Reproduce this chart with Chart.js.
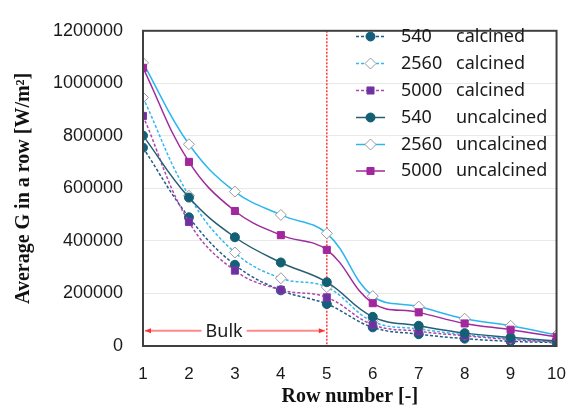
<!DOCTYPE html>
<html>
<head>
<meta charset="utf-8">
<script src="https://cdn.jsdelivr.net/npm/chart.js@4.4.1/dist/chart.umd.min.js"></script>
<style>
  html, body { margin: 0; padding: 0; background: #fff; }
  #wrap { width: 584px; height: 409px; }
</style>
</head>
<body>
<div id="wrap"><canvas id="chart" width="584" height="409"></canvas></div>
<script>
// --- DATI ---
const rows = [1, 2, 3, 4, 5, 6, 7, 8, 9, 10];
const g540Calc    = [755000, 490000, 309000, 212000, 160000, 71000, 45000, 28000, 18000, 13000];
const g2560Calc   = [946000, 572000, 356000, 258000, 224000, 93000, 65000, 43000, 28000, 15000];
const g5000Calc   = [876000, 472000, 287000, 214000, 185000, 81000, 56000, 39000, 25000, 15000];
const g540Uncalc  = [801000, 565000, 414000, 318000, 243000, 111000, 77000, 49000, 33000, 19000];
const g2560Uncalc = [1078000, 768000, 588000, 499000, 429000, 190000, 150000, 104000, 77000, 42000];
const g5000Uncalc = [1059000, 701000, 514000, 422000, 366000, 163000, 128000, 86000, 62000, 35000];
const yTicks = [0, 200000, 400000, 600000, 800000, 1000000, 1200000];
const bulkStart = 1, bulkEnd = 5;
const bulkLabel = 'Bulk';

const legendNames = [
  ['540', 'calcined'], ['2560', 'calcined'], ['5000', 'calcined'],
  ['540', 'uncalcined'], ['2560', 'uncalcined'], ['5000', 'uncalcined']
];

function pts(vals) {
  return rows.map((r, i) => ({ x: r, y: vals[i] }));
}

function serie(vals, line, marker, fill, border, radius, dashed) {
  return {
    data: pts(vals),
    borderColor: line,
    borderWidth: 1.5,
    borderDash: dashed ? [3, 2] : [],
    pointStyle: marker,
    pointRadius: radius,
    pointBackgroundColor: fill,
    pointBorderColor: border,
    pointBorderWidth: 1,
    tension: 0.4
  };
}

const datasets = [
  serie(g5000Uncalc, '#a02a9c', 'rect', '#a0289c', '#a0289c', 5, false),
  serie(g2560Uncalc, '#2cb6f0', 'rectRot', '#ffffff', '#9a9a9a', 5.5, false),
  serie(g540Uncalc, '#275f74', 'circle', '#135f73', '#135f73', 4.5, false),
  serie(g5000Calc, '#b045ae', 'rect', '#7030a0', '#7a3aa8', 5, true),
  serie(g2560Calc, '#33b8f2', 'rectRot', '#ffffff', '#9a9a9a', 5.5, true),
  serie(g540Calc, '#1e5d85', 'circle', '#155e7c', '#155e7c', 4.5, true)
];
// ordine legenda: calcined prima, poi uncalcined
const legendOrder = [5, 4, 3, 2, 1, 0];

// --- PLUGIN: cornice, linea rossa, freccia Bulk, legenda ---
const extras = {
  id: 'extras',
  beforeDatasetsDraw(chart) {
    const { ctx, chartArea: a, scales: { x, y } } = chart;
    ctx.save();
    // linea tratteggiata rossa a fine bulk
    const xr = x.getPixelForValue(bulkEnd);
    ctx.strokeStyle = '#ff3b3b';
    ctx.lineWidth = 1.5;
    ctx.setLineDash([2, 1.5]);
    ctx.beginPath();
    ctx.moveTo(xr, a.top);
    ctx.lineTo(xr, a.bottom);
    ctx.stroke();
    ctx.setLineDash([]);

    // freccia doppia Bulk
    const ya = y.getPixelForValue(58000);
    const x0 = x.getPixelForValue(bulkStart) + 2;
    const x1 = xr - 2;
    ctx.strokeStyle = '#ff8a8a';
    ctx.fillStyle = '#ff3030';
    ctx.lineWidth = 2;
    ctx.beginPath();
    ctx.moveTo(x0, ya);
    ctx.lineTo(x1, ya);
    ctx.stroke();
    [[x0, 1], [x1, -1]].forEach(([px, d]) => {
      ctx.beginPath();
      ctx.moveTo(px, ya);
      ctx.lineTo(px + d * 6, ya - 2.5);
      ctx.lineTo(px + d * 6, ya + 2.5);
      ctx.closePath();
      ctx.fill();
    });
    ctx.font = '18px "Noto Sans"';
    const tw = ctx.measureText(bulkLabel).width;
    const tx = x0 + (x1 - x0) * 0.44;
    ctx.fillStyle = '#ffffff';
    ctx.fillRect(tx - tw / 2 - 4, ya - 11, tw + 8, 22);
    ctx.fillStyle = '#1a1a1a';
    ctx.textAlign = 'center';
    ctx.textBaseline = 'middle';
    ctx.fillText(bulkLabel, tx, ya + 1);
    ctx.restore();
  },
  afterDatasetsDraw(chart) {
    const { ctx, chartArea: a } = chart;
    ctx.save();
    // cornice del grafico
    ctx.strokeStyle = '#404040';
    ctx.lineWidth = 2;
    ctx.strokeRect(a.left, a.top, a.right - a.left, a.bottom - a.top);

    // legenda a due colonne
    const lx0 = a.left + 213, lx1 = a.left + 242;
    const mx = (lx0 + lx1) / 2;
    const t1 = a.left + 258, t2 = a.left + 313;
    const rowY = [36.5, 63.5, 90.5, 117.5, 144.5, 171];
    ctx.font = '18px "Noto Sans"';
    ctx.textBaseline = 'middle';
    legendOrder.forEach((di, i) => {
      const ds = chart.data.datasets[di];
      const ly = rowY[i];
      ctx.strokeStyle = ds.borderColor;
      ctx.lineWidth = 1.5;
      ctx.setLineDash(ds.borderDash);
      ctx.beginPath();
      ctx.moveTo(lx0, ly);
      ctx.lineTo(lx1, ly);
      ctx.stroke();
      ctx.setLineDash([]);
      ctx.fillStyle = ds.pointBackgroundColor;
      ctx.strokeStyle = ds.pointBorderColor;
      ctx.lineWidth = 1;
      Chart.helpers.drawPoint(ctx, { pointStyle: ds.pointStyle, radius: ds.pointRadius, borderWidth: 1 }, mx, ly);
      ctx.fillStyle = '#1a1a1a';
      ctx.fillText(legendNames[i][0], t1, ly);
      ctx.fillText(legendNames[i][1], t2, ly);
    });
    ctx.restore();
  }
};

new Chart(document.getElementById('chart'), {
  type: 'line',
  data: { datasets },
  options: {
    responsive: false,
    animation: false,
    layout: { padding: { top: 19, right: 13, left: 0, bottom: 0 } },
    plugins: { legend: { display: false }, tooltip: { enabled: false } },
    scales: {
      x: {
        type: 'linear',
        min: 1, max: 10,
        afterFit(s) { s.height = 63; },
        grid: { display: false, drawTicks: false },
        border: { display: true, color: '#404040', width: 2 },
        ticks: { stepSize: 1, padding: 18, color: '#1a1a1a', font: { family: 'Liberation Sans', size: 17 } },
        title: { display: true, text: 'Row number [-]', color: '#111', padding: { top: 4, bottom: 0 },
                 font: { family: 'Liberation Serif', size: 20, weight: 'bold' } }
      },
      y: {
        min: 0, max: 1200000,
        afterFit(s) { s.width = 143; },
        afterBuildTicks(s) { s.ticks = yTicks.map(v => ({ value: v })); },
        grid: { color: '#e8e8e8', lineWidth: 1, drawTicks: false },
        border: { display: true, color: '#404040', width: 2 },
        ticks: { padding: 20, color: '#1a1a1a', font: { family: 'Liberation Sans', size: 18 },
                 callback: v => String(v) },
        title: { display: true, text: 'Average G in a row [W/m²]', color: '#111', padding: { top: 12, bottom: 0 },
                 font: { family: 'Liberation Serif', size: 20, weight: 'bold' } }
      }
    }
  },
  plugins: [extras]
});
</script>
</body>
</html>
